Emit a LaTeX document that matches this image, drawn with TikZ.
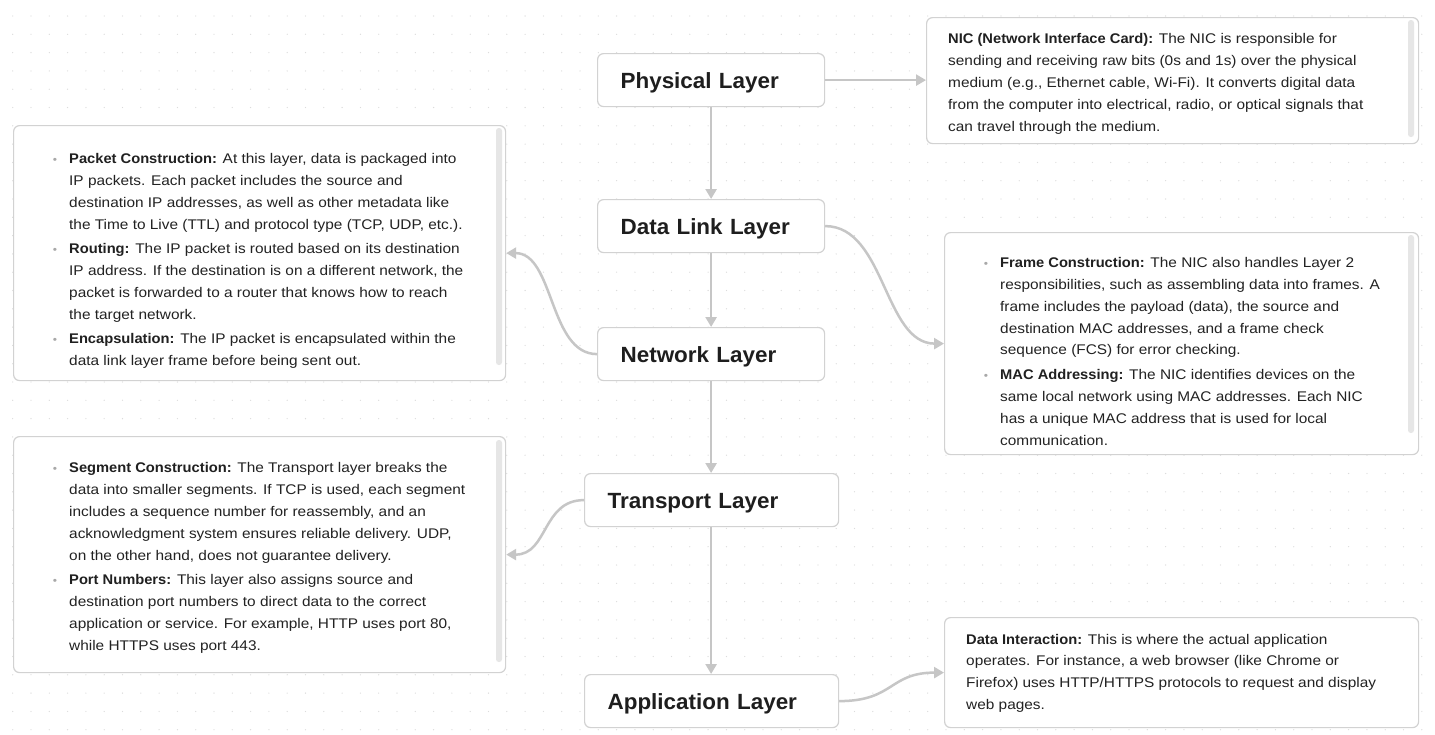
\documentclass[tikz,border=0pt]{standalone}
\usepackage{fontspec}
\setmainfont{Liberation Sans}
\newfontfamily\bodyfont{Liberation Sans}[FakeStretch=1.1]
\newfontfamily\labfont{Liberation Sans}[FakeStretch=1.05]
\newfontfamily\ttlfont{Liberation Sans}[FakeStretch=1.02]
\usetikzlibrary{arrows.meta}
\definecolor{edgec}{HTML}{C6C6C6}
\definecolor{boxc}{HTML}{D2D2D2}
\definecolor{txt}{HTML}{222222}
\definecolor{labc}{HTML}{202020}
\definecolor{ttlc}{HTML}{1E1E1E}
\definecolor{bulc}{HTML}{A8A8A8}
\definecolor{scrl}{HTML}{E6E6E6}
\definecolor{dotc}{HTML}{DCDCDC}
\newcommand{\bul}{\makebox[0pt][r]{\raisebox{0.3pt}{\textcolor{bulc}{\fontsize{11}{11}\selectfont\textbullet}}\hspace{12pt}}}
\newcommand{\lab}[1]{{\labfont\bfseries\color{labc}#1}}
\newcommand{\desc}[1]{\parbox[t]{440pt}{\bodyfont\fontsize{14}{21.9}\selectfont\raggedright\leavevmode #1}}
\newcommand{\gp}{2.5pt}
\begin{document}
\begin{tikzpicture}[x=1pt,y=-1pt,
  layer/.style={draw=boxc, line width=1.2pt, rounded corners=6pt, fill=white,
    minimum height=53pt, inner xsep=23pt, inner ysep=0pt, anchor=north west,
    align=left, text height=16pt, text depth=0pt,
    font=\ttlfont\fontsize{22}{26}\selectfont\bfseries, text=ttlc},
  panel/.style={draw=boxc, line width=1.2pt, rounded corners=6pt, fill=white,
    anchor=north west, inner sep=0pt},
  body/.style={anchor=base west, inner sep=0pt, text=txt},
  conn/.style={draw=edgec, line width=2.5pt, -{Triangle[length=10pt,width=11pt]}},
  sbar/.style={fill=scrl, rounded corners=2.8pt}]
\useasboundingbox (0,0) rectangle (1435,734);
\fill[white] (0,0) rectangle (1435,734);
\foreach \i in {0,...,77}{
  \foreach \j in {0,...,39}{
    \fill[dotc] ({12.7+18.3*\i},{16+18.3*\j}) circle (0.65pt);
  }
}
% layer nodes
\node[layer, text width=181pt] (phys) at (597,53) {Physical Layer};
\node[layer, text width=181pt] (dl) at (597,199) {Data Link Layer};
\node[layer, text width=181pt] (net) at (597,327) {Network Layer};
\node[layer, text width=208pt] (tr) at (584,473) {Transport Layer};
\node[layer, text width=208pt] (app) at (584,674) {Application Layer};
% description panels
\node[panel, minimum width=492pt, minimum height=126pt] (nicbox) at (926,17) {};
\node[panel, minimum width=492pt, minimum height=255pt] (netbox) at (13,125) {};
\node[panel, minimum width=474pt, minimum height=222pt] (dlbox) at (944,232) {};
\node[panel, minimum width=492pt, minimum height=236pt] (trbox) at (13,436) {};
\node[panel, minimum width=474pt, minimum height=110pt] (appbox) at (944,617) {};
% scrollbars
\fill[sbar] (1408,20) rectangle (1414,137);
\fill[sbar] (496,128) rectangle (502,365);
\fill[sbar] (1408,235) rectangle (1414,433);
\fill[sbar] (496,440) rectangle (502,662);
% texts
\node[body] (nictext) at (948,43.5) {\desc{\lab{NIC (Network Interface Card):} The NIC is responsible for\\
sending and receiving raw bits (0s and 1s) over the physical\\
medium (e.g., Ethernet cable, Wi-Fi). It converts digital data\\
from the computer into electrical, radio, or optical signals that\\
can travel through the medium.}};
\node[body] (nettext) at (69,163.3) {\desc{\bul\lab{Packet Construction:} At this layer, data is packaged into\\
IP packets. Each packet includes the source and\\
destination IP addresses, as well as other metadata like\\
the Time to Live (TTL) and protocol type (TCP, UDP, etc.).\\[\gp]
\bul\lab{Routing:} The IP packet is routed based on its destination\\
IP address. If the destination is on a different network, the\\
packet is forwarded to a router that knows how to reach\\
the target network.\\[\gp]
\bul\lab{Encapsulation:} The IP packet is encapsulated within the\\
data link layer frame before being sent out.}};
\node[body] (dltext) at (1000,267.3) {\desc{\bul\lab{Frame Construction:} The NIC also handles Layer 2\\
responsibilities, such as assembling data into frames. A\\
frame includes the payload (data), the source and\\
destination MAC addresses, and a frame check\\
sequence (FCS) for error checking.\\[\gp]
\bul\lab{MAC Addressing:} The NIC identifies devices on the\\
same local network using MAC addresses. Each NIC\\
has a unique MAC address that is used for local\\
communication.}};
\node[body] (trtext) at (69,472.7) {\desc{\bul\lab{Segment Construction:} The Transport layer breaks the\\
data into smaller segments. If TCP is used, each segment\\
includes a sequence number for reassembly, and an\\
acknowledgment system ensures reliable delivery. UDP,\\
on the other hand, does not guarantee delivery.\\[\gp]
\bul\lab{Port Numbers:} This layer also assigns source and\\
destination port numbers to direct data to the correct\\
application or service. For example, HTTP uses port 80,\\
while HTTPS uses port 443.}};
\node[body] (apptext) at (966,644) {\desc{\lab{Data Interaction:} This is where the actual application\\
operates. For instance, a web browser (like Chrome or\\
Firefox) uses HTTP/HTTPS protocols to request and display\\
web pages.}};
% connectors
\draw[conn] (phys.east) -- (phys.east -| nicbox.west);
\draw[conn] (phys.south) -- (dl.north);
\draw[conn] (dl.south) -- (net.north);
\draw[conn] (net.south) -- (net.south |- tr.north);
\draw[conn] (net.south |- tr.south) -- (net.south |- app.north);
\draw[conn] (dl.east) .. controls +(60,0) and +(-60,0) .. (dlbox.west);
\draw[conn] (net.west) .. controls +(-48,0) and +(48,0) .. (netbox.east);
\draw[conn] (tr.west) .. controls +(-42,0) and +(42,0) .. (trbox.east);
\draw[conn] (app.east) .. controls +(55,0) and +(-55,0) .. (appbox.west);
\end{tikzpicture}
\end{document}
